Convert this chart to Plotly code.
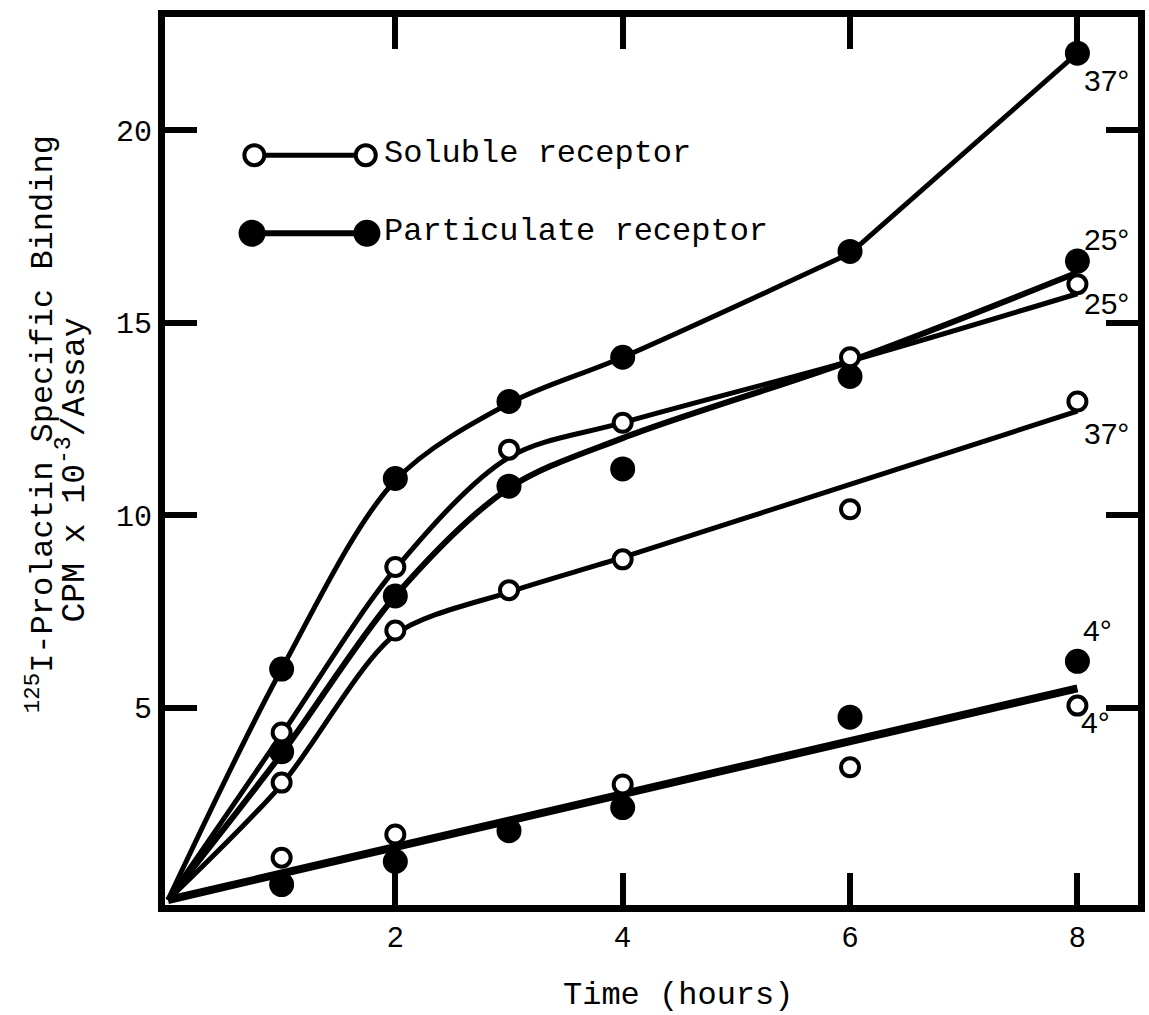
import plotly.graph_objects as go

# ---- data ----
X_HOURS = [1, 2, 3, 4, 6, 8]
P37 = [6.0, 10.95, 12.95, 14.1, 16.85, 22.0]     # particulate 37°
S25 = [4.35, 8.65, 11.7, 12.4, 14.1, 16.0]       # soluble 25°
P25 = [3.85, 7.9, 10.75, 11.2, 13.6, 16.6]       # particulate 25°
S37 = [3.05, 7.0, 8.05, 8.85, 10.15, 12.95]      # soluble 37°
P4 = [0.4, 1.0, 1.8, 2.4, 4.75, 6.2]             # particulate 4°
S4_X = [1, 2, 4, 6, 8]
S4 = [1.1, 1.7, 3.0, 3.45, 5.05]                 # soluble 4°

# hand-drawn fitted curves
CURVE_X = [0, 1, 2, 3, 4, 6, 8]
P37_FIT = [0, 6.0, 10.9, 12.9, 14.1, 16.8, 22.0]
S25_FIT = [0, 4.3, 8.6, 11.5, 12.4, 14.0, 15.75]
P25_FIT = [0, 3.8, 7.9, 10.7, 12.0, 14.0, 16.3]
S37_FIT = [0, 3.0, 6.9, 8.0, 8.9, 10.8, 12.7]
FOUR_X = [0, 8]
FOUR_FIT = [0, 5.5]

X_TICKS = [2, 4, 6, 8]
Y_TICKS = [5, 10, 15, 20]

TEMP_LABELS = ["37°", "25°", "25°", "37°", "4°", "4°"]
TEMP_X = [8.26, 8.26, 8.26, 8.26, 8.18, 8.16]
TEMP_Y = [21.3, 17.17, 15.5, 12.13, 7.0, 4.62]

# legend key layout (positions, not data)
LEG_SOL = dict(x=[0.76, 1.74], y=[19.35, 19.35])
LEG_PAR = dict(x=[0.74, 1.75], y=[17.32, 17.32])
LEG_TEXT_X = 1.88

MONO = "Liberation Mono"
SANS = "Liberation Sans"

fig = go.Figure()

def curve(x, y, w=5, shape="spline", smoothing=0.9):
    fig.add_trace(go.Scatter(x=x, y=y, mode="lines",
                             line=dict(color="black", width=w, shape=shape, smoothing=smoothing),
                             showlegend=False, hoverinfo="skip"))

# particulate 37°: smooth curve up to 6 h, then a straight segment to 8 h
curve(CURVE_X[:-1], P37_FIT[:-1])
curve(CURVE_X[-2:], P37_FIT[-2:], shape="linear")
curve(CURVE_X, S25_FIT)
curve(CURVE_X, P25_FIT, w=6)
curve(CURVE_X, S37_FIT, smoothing=0.8)
curve(FOUR_X, FOUR_FIT, w=8, shape="linear")

filled = dict(symbol="circle", size=25, color="black", line=dict(color="black", width=0))
opened = dict(symbol="circle", size=18, color="white", line=dict(color="black", width=4))

for ys in (P37, P25, P4):
    fig.add_trace(go.Scatter(x=X_HOURS, y=ys, mode="markers", marker=filled,
                             showlegend=False, hoverinfo="skip"))
for xs, ys in ((X_HOURS, S25), (X_HOURS, S37), (S4_X, S4)):
    fig.add_trace(go.Scatter(x=xs, y=ys, mode="markers", marker=opened,
                             showlegend=False, hoverinfo="skip"))

# legend keys
fig.add_trace(go.Scatter(x=LEG_SOL["x"], y=LEG_SOL["y"], mode="lines+markers",
                         line=dict(color="black", width=5), marker=dict(opened, size=20),
                         showlegend=False, hoverinfo="skip"))
fig.add_trace(go.Scatter(x=LEG_PAR["x"], y=LEG_PAR["y"], mode="lines+markers",
                         line=dict(color="black", width=6), marker=dict(filled, size=27),
                         showlegend=False, hoverinfo="skip"))

annotations = [
    dict(x=LEG_TEXT_X, y=LEG_SOL["y"][0] + 0.05, text="Soluble receptor", xanchor="left",
         yanchor="middle", showarrow=False, font=dict(family=MONO, size=32, color="black")),
    dict(x=LEG_TEXT_X, y=LEG_PAR["y"][0] + 0.05, text="Particulate receptor", xanchor="left",
         yanchor="middle", showarrow=False, font=dict(family=MONO, size=32, color="black")),
]
for t, tx, ty in zip(TEMP_LABELS, TEMP_X, TEMP_Y):
    annotations.append(dict(x=tx, y=ty, text=t, showarrow=False, xanchor="center",
                            yanchor="middle", font=dict(family=SANS, size=30, color="black")))

annotations += [
    dict(xref="paper", yref="paper", x=0.5276, y=-0.102, text="Time (hours)",
         showarrow=False, xanchor="center", yanchor="middle",
         font=dict(family=MONO, size=32, color="black")),
    dict(xref="paper", yref="paper", x=-0.128, y=0.542, textangle=-90,
         text="<sup>125</sup>I-Prolactin Specific Binding",
         showarrow=False, xanchor="center", yanchor="middle",
         font=dict(family=MONO, size=32, color="black")),
    dict(xref="paper", yref="paper", x=-0.095, y=0.49, textangle=-90,
         text="CPM x 10<sup>-3</sup>/Assay",
         showarrow=False, xanchor="center", yanchor="middle",
         font=dict(family=MONO, size=33, color="black")),
]

axis_common = dict(showline=True, linecolor="black", linewidth=7, mirror="allticks",
                   ticks="inside", ticklen=32, tickwidth=6, tickcolor="black",
                   showgrid=False, zeroline=False)

fig.update_layout(
    width=1149, height=1015,
    margin=dict(l=165, r=4, t=17, b=110),
    paper_bgcolor="white", plot_bgcolor="white",
    xaxis=dict(axis_common, range=[-0.026, 8.533], tickvals=X_TICKS,
               tickfont=dict(family=SANS, size=29, color="black")),
    yaxis=dict(axis_common, range=[-0.13, 22.94], tickvals=Y_TICKS,
               tickfont=dict(family=MONO, size=30, color="black")),
    annotations=annotations,
    showlegend=False,
)

fig.write_html("out.html")
